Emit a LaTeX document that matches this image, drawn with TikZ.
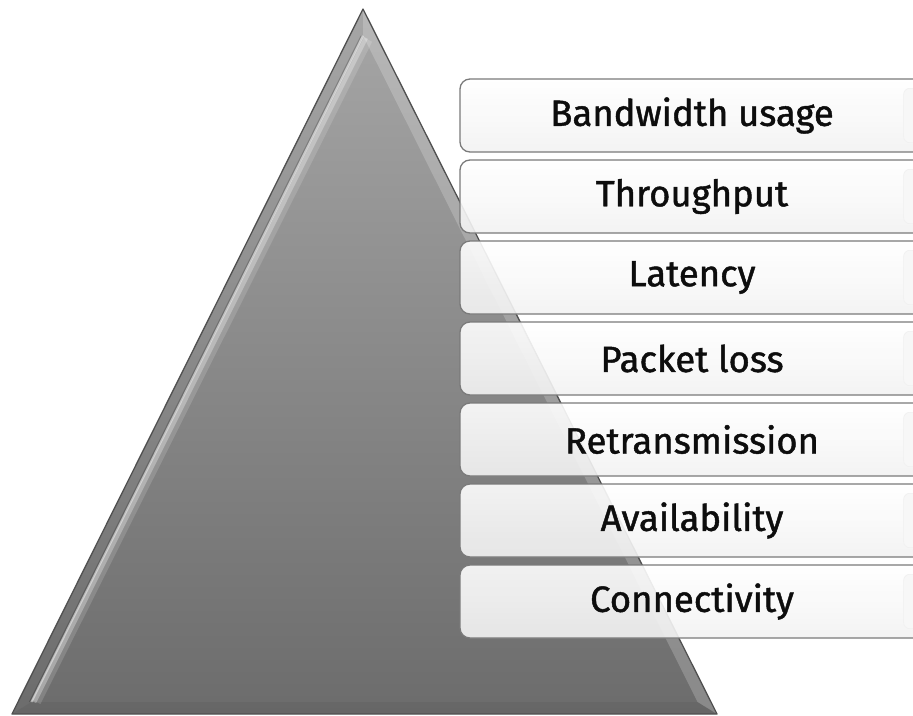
\documentclass[tikz,border=0pt]{standalone}
\usepackage{fontspec}
\setmainfont{Fira Sans}
\newfontfamily\boxfont{Fira Sans}[FakeBold=1.2]
\usetikzlibrary{calc}
\definecolor{triTop}{HTML}{A6A6A6}
\definecolor{triBot}{HTML}{6C6C6C}
\definecolor{triEdge}{HTML}{505050}
\definecolor{boxEdge}{HTML}{7A7A7A}
\definecolor{boxBot}{HTML}{F2F2F2}
\begin{document}
\begin{tikzpicture}[x=1pt,y=-1pt,
  metricbox/.style={rounded corners=10pt, draw=boxEdge, line width=1.3pt,
    top color=white, bottom color=boxBot, fill opacity=0.9, text opacity=1,
    minimum width=464pt, minimum height=73pt, inner sep=0pt,
    font=\boxfont\fontsize{36.5}{40}\selectfont, text=black!95},
  tabshade/.style={rounded corners=6pt, fill=gray!6, draw=gray!12, line width=0.6pt}]
\useasboundingbox (0,0) rectangle (913,715);
\clip (0,0) rectangle (913,715);
% pyramid
\coordinate (A) at (363,9);
\coordinate (BL) at (12,714);
\coordinate (BR) at (717,714);
\coordinate (I) at (364.5,496);
\coordinate (a) at ($(I)!0.945!(A)$);
\coordinate (bl) at ($(I)!0.945!(BL)$);
\coordinate (br) at ($(I)!0.945!(BR)$);
\shade[top color=triTop, bottom color=triBot] (A)--(BL)--(BR)--cycle;
\fill[white, opacity=0.2] (A)--(a)--(br)--(BR)--cycle;
\fill[black, opacity=0.05] (BL)--(bl)--(br)--(BR)--cycle;
\draw[black, opacity=0.2, line width=1pt] ($(a)+(-2,0)$)--($(bl)+(-2,0)$);
\draw[white, opacity=0.15, line width=9pt] ($(a)+(5,4)$)--($(bl)+(5,0)$);
\draw[white, opacity=0.3, line width=5pt] ($(a)+(2.5,2)$)--($(bl)+(2.5,0)$);
\draw[white, opacity=0.45, line width=2pt] (a)--(bl);
\draw[triEdge, line width=1.3pt, line join=round] (A)--(BL)--(BR)--cycle;
% boxes
\foreach \t [count=\i from 0] in {Bandwidth usage, Throughput, Latency, Packet loss, Retransmission, Availability, Connectivity} {
  \node[metricbox] (b\i) at (692,{115.5+81*\i}) {\t};
  \fill[tabshade] ($(b\i.north east)+(-21,10)$) rectangle ($(b\i.south east)+(10,-10)$);
}
\end{tikzpicture}
\end{document}
